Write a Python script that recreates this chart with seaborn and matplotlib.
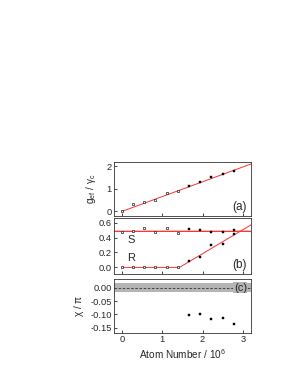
import matplotlib
matplotlib.use("Agg")
import matplotlib.pyplot as plt
import numpy as np
import seaborn as sns
import pandas as pd

# atom number in units of 10^6
atoms = [0.0, 0.28, 0.55, 0.83, 1.11, 1.39, 1.66, 1.94, 2.22, 2.50, 2.78]
g_ef = [0.0, 0.31, 0.43, 0.50, 0.82, 0.91, 1.13, 1.29, 1.51, 1.65, 1.79]
s_vals = [0.47, 0.49, 0.53, 0.47, 0.53, 0.46, 0.52, 0.50, 0.47, 0.48, 0.50]
r_vals = [0.0, 0.0, 0.0, 0.0, 0.0, 0.0, 0.09, 0.14, 0.30, 0.31, 0.45]
chi_atoms = [1.66, 1.94, 2.22, 2.50, 2.78]
chi_vals = [-0.103, -0.100, -0.118, -0.114, -0.138]
n_open = 6

# fitted lines
fit_a_x = [0.0, 3.2]
fit_a_y = [0.0, 2.1]
fit_r_x = [0.0, 1.43, 3.2]
fit_r_y = [0.0, 0.0, 0.57]
s_level = 0.49

df = pd.DataFrame({'N': atoms, 'g': g_ef, 'S': s_vals, 'R': r_vals})
df['kind'] = ['open'] * n_open + ['filled'] * (len(atoms) - n_open)
op = df[df['kind'] == 'open']
fi = df[df['kind'] == 'filled']
dfc = pd.DataFrame({'N': chi_atoms, 'chi': chi_vals})

sns.set_style("ticks")
plt.rcParams['font.family'] = ['Liberation Sans', 'DejaVu Sans']
plt.rcParams['mathtext.fontset'] = 'custom'
plt.rcParams['mathtext.rm'] = 'Liberation Sans'
plt.rcParams['mathtext.it'] = 'Liberation Sans'
plt.rcParams['xtick.direction'] = 'in'
plt.rcParams['ytick.direction'] = 'in'
plt.rcParams['axes.linewidth'] = 0.6
plt.rcParams['xtick.major.width'] = 0.6
plt.rcParams['ytick.major.width'] = 0.6
plt.rcParams['xtick.major.size'] = 2.5
plt.rcParams['ytick.major.size'] = 2.5

fig = plt.figure(figsize=(2.98, 3.85), dpi=100)
L, W = 0.3815, 0.461
ax_a = fig.add_axes([L, 0.439, W, 0.141])
ax_b = fig.add_axes([L, 0.288, W, 0.1455])
ax_c = fig.add_axes([L, 0.135, W, 0.140])

fs = 6.7
ms = 4
red = '#ff3030'
band_gray = '#b4b4b4'

def open_sq(ax, x, y):
    sns.scatterplot(x=x, y=y, ax=ax, marker='s', s=ms, facecolor='white',
                    edgecolor='#222222', linewidth=0.5, zorder=4)

def fill_sq(ax, x, y):
    sns.scatterplot(x=x, y=y, ax=ax, marker='s', s=ms, color='black',
                    edgecolor='black', linewidth=0.3, zorder=4)

# (a)
sns.lineplot(x=fit_a_x, y=fit_a_y, ax=ax_a, color=red, lw=0.7, zorder=2)
open_sq(ax_a, op['N'], op['g'])
fill_sq(ax_a, fi['N'], fi['g'])
ax_a.set_ylim(-0.2, 2.2)
ax_a.set_yticks([0, 1, 2])
ax_a.set_ylabel(r'g$_{ef}$ / $\gamma_c$', fontsize=fs + 0.5, labelpad=6)
ax_a.text(0.97, 0.05, '(a)', transform=ax_a.transAxes, ha='right', va='bottom',
          fontsize=8.5)

# (b)
ax_b.axhspan(s_level - 0.012, s_level + 0.012, color='#ffb8b8', lw=0, zorder=1)
ax_b.axhline(s_level, color=red, lw=0.7, zorder=2)
sns.lineplot(x=fit_r_x, y=fit_r_y, ax=ax_b, color=red, lw=0.7, zorder=2)
open_sq(ax_b, op['N'], op['S'])
open_sq(ax_b, op['N'], op['R'])
fill_sq(ax_b, fi['N'], fi['S'])
fill_sq(ax_b, fi['N'], fi['R'])
ax_b.set_ylim(-0.09, 0.66)
ax_b.set_yticks([0.0, 0.2, 0.4, 0.6])
ax_b.set_yticklabels(['0.0', '0.2', '0.4', '0.6'])
ax_b.set_ylabel('')
ax_b.text(0.23, 0.37, 'S', fontsize=8, ha='center', va='center')
ax_b.text(0.23, 0.13, 'R', fontsize=8, ha='center', va='center')
ax_b.text(0.97, 0.05, '(b)', transform=ax_b.transAxes, ha='right', va='bottom',
          fontsize=8.5)

# (c)
ax_c.axhspan(-0.018, 0.018, color=band_gray, lw=0, zorder=1)
ax_c.axhline(0, color='#333333', lw=0.6, ls=(0, (3, 2)), zorder=2)
fill_sq(ax_c, dfc['N'], dfc['chi'])
ax_c.set_ylim(-0.17, 0.032)
ax_c.set_yticks([0.0, -0.05, -0.10, -0.15])
ax_c.set_yticklabels(['0.00', '-0.05', '-0.10', '-0.15'])
ax_c.set_ylabel(r'$\chi$ / $\pi$', fontsize=fs + 0.5, labelpad=3)
ax_c.text(0.97, 0.0, '(c)', transform=ax_c.get_yaxis_transform(),
          ha='right', va='center', fontsize=8, zorder=3,
          bbox=dict(facecolor=band_gray, edgecolor='none', pad=0.2))
ax_c.set_xlabel(r'Atom Number / 10$^6$', fontsize=fs + 0.5, labelpad=2)

for ax in (ax_a, ax_b, ax_c):
    ax.set_xlim(-0.2, 3.2)
    ax.set_xticks([0, 1, 2, 3])
    ax.tick_params(labelsize=fs, pad=1.5)
    for sp in ax.spines.values():
        sp.set_visible(True)
        sp.set_color('#333333')
for ax in (ax_a, ax_b):
    ax.set_xticklabels([])
    ax.set_xlabel('')

fig.savefig('out.png', dpi=100)
